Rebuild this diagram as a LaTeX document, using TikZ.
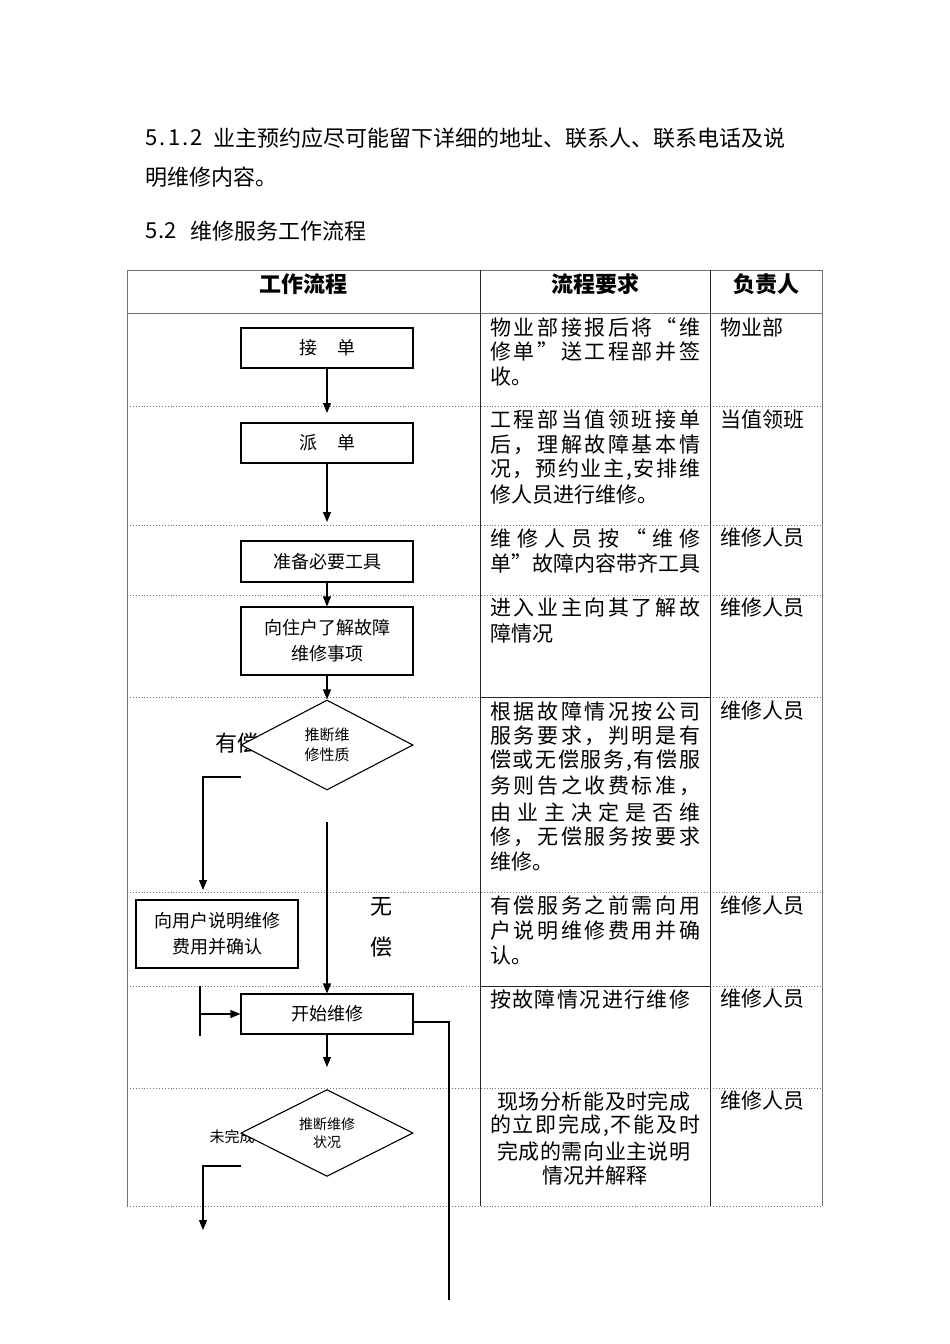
\documentclass[tikz,border=0pt]{standalone}
\usepackage{fontspec}
\setmainfont{Noto Sans CJK SC}
\usetikzlibrary{arrows.meta,shapes.geometric}
\makeatletter
\def\spr@a#1{#1\spr@b}
\def\spr@b#1{\ifx\relax#1\else\hfill#1\expandafter\spr@b\fi}
\newcommand\jl[2][210pt]{\makebox[#1][s]{\spr@a#2\relax}}
\makeatother
\begin{document}
\begin{tikzpicture}[x=1pt,y=-1pt,
  box/.style={draw,line width=1.1pt,minimum width=172pt,inner sep=0pt,align=center,font=\fontsize{18}{26}\selectfont},
  dia/.style={draw,fill=white,diamond,line width=1.1pt,inner sep=0pt,minimum width=172pt,minimum height=90pt,align=center,font=\fontsize{15}{20}\selectfont},
  ln/.style={line width=1.1pt},
  arr/.style={line width=1.1pt,-{Triangle[length=10pt,width=8pt]}},
  tline/.style={black!55,line width=0.9pt},
  dline/.style={black!55,line width=0.9pt,dotted},
  colline/.style={black!85,line width=1pt},
  big/.style={inner sep=0pt,font=\fontsize{22}{26}\selectfont},
  body/.style={inner sep=0pt,anchor=west,font=\fontsize{21}{25}\selectfont},
  bodyc/.style={inner sep=0pt,font=\fontsize{21}{25}\selectfont},
  hdr/.style={inner sep=0pt,font=\bfseries\fontsize{22}{26}\selectfont}
]
\fill[white] (0,0) rectangle (950,1344);
\useasboundingbox (0,0) rectangle (950,1344);

% top text
\node[big,anchor=west] (t1a) at (145,138) {\jl[58pt]{5.1.2}};
\node[big,anchor=west] (t1b) at (213,138) {业主预约应尽可能留下详细的地址、联系人、联系电话及说};
\node[big,anchor=west] (t2) at (145,177) {明维修内容。};
\node[big,anchor=west] (t3a) at (145,231) {\jl[32pt]{5.2}};
\node[big,anchor=west] (t3b) at (190,231) {维修服务工作流程};

% table
\draw[tline] (127,270) -- (822,270);
\draw[tline] (127,313) -- (822,313);
\draw[tline] (127,270) -- (127,1206);
\draw[tline] (822,270) -- (822,1206);
\foreach \y in {406,525,595,697,892,986,1088,1206} \draw[dline] (127,\y) -- (822,\y);
\draw[colline] (480,270) -- (480,1206);
\draw[colline] (710,270) -- (710,1206);
\draw[colline] (480,697) -- (710,697);
\draw[colline] (480,986) -- (710,986);

\node[hdr] (h1) at (303,284) {工作流程};
\node[hdr] (h2) at (595,284) {流程要求};
\node[hdr] (h3) at (766,284) {负责人};

% requirement column
\node[body] (r1a) at (490,327) {\jl{物业部接报后将“维}};
\node[body] (r1b) at (490,352) {\jl{修单”送工程部并签}};
\node[body] (r1c) at (490,377) {收。};
\node[body] (r2a) at (490,420) {\jl{工程部当值领班接单}};
\node[body] (r2b) at (490,445) {\jl{后，理解故障基本情}};
\node[body] (r2c) at (490,470) {\jl{况，预约业主,安排维}};
\node[body] (r2d) at (490,495) {修人员进行维修。};
\node[body] (r3a) at (490,538) {\jl{维修人员按“维修}};
\node[body] (r3b) at (490,563) {\jl{单”故障内容带齐工具}};
\node[body] (r4a) at (490,608) {\jl{进入业主向其了解故}};
\node[body] (r4b) at (490,633) {障情况};
\node[body] (r5a) at (490,711) {\jl{根据故障情况按公司}};
\node[body] (r5b) at (490,736) {\jl{服务要求，判明是有}};
\node[body] (r5c) at (490,761) {\jl{偿或无偿服务,有偿服}};
\node[body] (r5d) at (490,786) {\jl{务则告之收费标准，}};
\node[body] (r5e) at (490,812) {\jl{由业主决定是否维}};
\node[body] (r5f) at (490,837) {\jl{修，无偿服务按要求}};
\node[body] (r5g) at (490,862) {维修。};
\node[body] (r6a) at (490,906) {\jl{有偿服务之前需向用}};
\node[body] (r6b) at (490,931) {\jl{户说明维修费用并确}};
\node[body] (r6c) at (490,956) {认。};
\node[body] (r7a) at (490,999) {\jl[200pt]{按故障情况进行维修}};
\node[bodyc] (r8a) at (594,1101) {\jl[193pt]{现场分析能及时完成}};
\node[bodyc] (r8b) at (595,1126) {\jl{的立即完成,不能及时}};
\node[bodyc] (r8c) at (594,1151) {\jl[193pt]{完成的需向业主说明}};
\node[bodyc] (r8d) at (595,1176) {情况并解释};

% responsible column
\node[body] (p1) at (720,327) {物业部};
\node[body] (p2) at (720,420) {当值领班};
\node[body] (p3) at (720,538) {维修人员};
\node[body] (p4) at (720,608) {维修人员};
\node[body] (p5) at (720,711) {维修人员};
\node[body] (p6) at (720,906) {维修人员};
\node[body] (p7) at (720,999) {维修人员};
\node[body] (p8) at (720,1101) {维修人员};

% flowchart
\node[box,minimum height=40pt] (b1) at (327,348) {接\hspace{20pt}单};
\node[box,minimum height=40pt] (b2) at (327,443) {派\hspace{20pt}单};
\node[box,minimum height=41pt] (b3) at (327,561.5) {准备必要工具};
\node[box,minimum height=68pt] (b4) at (327,641) {向住户了解故障\\维修事项};
\node[big] (lyc) at (237,743) {有偿};
\node[dia] (d1) at (327,745) {推断维\\修性质};
\node[big] (lw1) at (381,907) {无};
\node[big] (lw2) at (381,947) {偿};
\node[box,minimum width=162pt,minimum height=68pt] (b5) at (217,934) {向用户说明维修\\费用并确认};
\node[box,minimum height=40pt] (b6) at (327,1014) {开始维修};
\node[inner sep=0pt,font=\fontsize{15}{20}\selectfont] (lwc) at (232,1137) {未完成};
\node[dia,minimum height=86pt,font=\fontsize{14}{18}\selectfont] (d2) at (327,1133) {推断维修\\状况};

\coordinate (c1) at (327,413);
\coordinate (c2) at (327,522);
\coordinate (c3) at (241,777);
\coordinate (c4) at (203,890);
\coordinate (c5) at (327,822);
\coordinate (c6) at (200,986);
\coordinate (c7) at (200,1036);
\coordinate (c7m) at (200,1014);
\coordinate (c8) at (449,1300);
\coordinate (c9) at (327,1067);
\coordinate (c10) at (241,1166);
\coordinate (c11) at (203,1230);

\draw[arr] (b1.south) -- (c1);
\draw[arr] (b2.south) -- (c2);
\draw[arr] (b3.south) -- (b4.north);
\draw[arr] (b4.south) -- (d1.north);
\draw[arr] (c3) -| (c4);
\draw[arr] (c5) -- (b6.north);
\draw[ln] (c6) -- (c7);
\draw[arr] (c7m) -- (b6.west);
\draw[ln] ([yshift=-8pt]b6.east) -| (c8);
\draw[arr] (b6.south) -- (c9);
\draw[arr] (c10) -| (c11);
\end{tikzpicture}
\end{document}
